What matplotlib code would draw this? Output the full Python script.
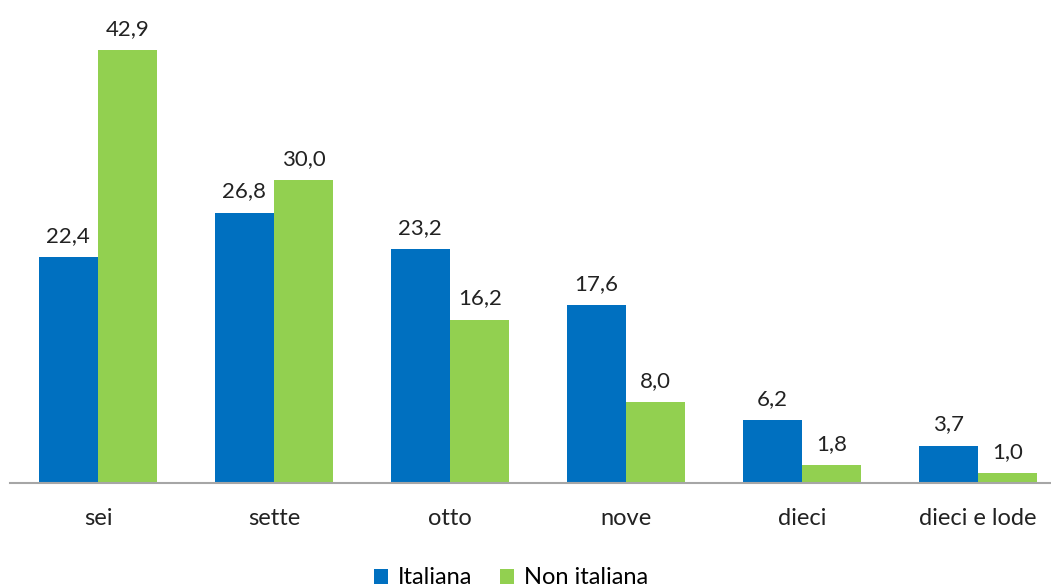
import matplotlib
matplotlib.use("Agg")
import matplotlib.pyplot as plt
import numpy as np

categories = ["sei", "sette", "otto", "nove", "dieci", "dieci e lode"]
italiana = [22.4, 26.8, 23.2, 17.6, 6.2, 3.7]
non_italiana = [42.9, 30.0, 16.2, 8.0, 1.8, 1.0]
series_names = ["Italiana", "Non italiana"]

plt.rcParams['font.family'] = ['Lato', 'DejaVu Sans']

W, H = 1051, 588
fig = plt.figure(figsize=(W/100, H/100), dpi=100)
left = 10 / W
bottom = (H - 483) / H
top = (H - 29) / H
ax = fig.add_axes([left, bottom, 1 - left, top - bottom])

x = np.arange(len(categories))
w = 0.338
c1, c2 = "#0070C0", "#92D050"
b1 = ax.bar(x - w/2, italiana, w, color=c1, label=series_names[0])
b2 = ax.bar(x + w/2, non_italiana, w, color=c2, label=series_names[1])

fmt = lambda v: f"{v:.1f}".replace(".", ",")
for bars, vals in ((b1, italiana), (b2, non_italiana)):
    for r, v in zip(bars, vals):
        ax.annotate(fmt(v), (r.get_x() + r.get_width()/2, v), xytext=(0, 8),
                    textcoords="offset points", ha="center", va="bottom",
                    fontsize=16, color="#222222")

ax.set_xlim(-0.5, -0.5 + (W - 10) / 176)
ax.set_ylim(0, 45)
ax.set_yticks([])
ax.set_xticks(x)
ax.set_xticklabels(categories, fontsize=17, color="#222222")
ax.tick_params(axis="x", length=0, pad=18)
for s in ("top", "right", "left"):
    ax.spines[s].set_visible(False)
ax.spines["bottom"].set_color("#A6A6A6")
ax.spines["bottom"].set_linewidth(1.5)

fig.legend(handles=[b1, b2], loc="center", bbox_to_anchor=(511 / W, 1 - 578 / H),
           ncol=2, frameon=False, fontsize=17, handlelength=0.6, handleheight=0.6,
           handletextpad=0.4, columnspacing=1.2)

fig.savefig("out.png", dpi=100)
